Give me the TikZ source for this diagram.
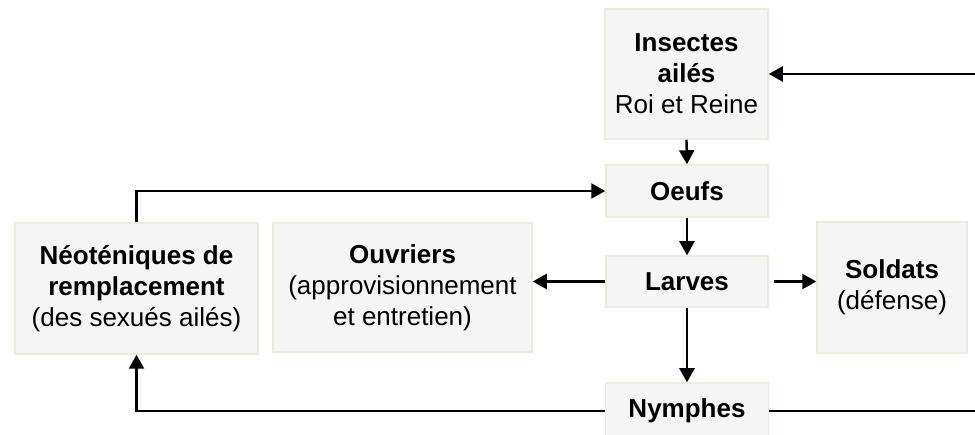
\documentclass[tikz,border=0pt]{standalone}
\usepackage{fontspec}
\setmainfont{Liberation Sans}
\usetikzlibrary{arrows.meta}
\definecolor{boxfill}{HTML}{F5F5F5}
\definecolor{boxline}{HTML}{ECE9DD}
\tikzset{
  stage/.style={draw=boxline, fill=boxfill, line width=1.5pt, align=center, inner sep=0pt,
    font=\fontsize{26}{31}\selectfont},
  flow/.style={line width=2.4pt, -{Triangle[length=14pt,width=15pt]}},
}
\begin{document}
\begin{tikzpicture}[x=1pt,y=-1pt]
\useasboundingbox (0,0) rectangle (975,435);
\clip (0,0) rectangle (975,435);
\node[stage, minimum width=163pt, minimum height=130pt] (ins) at (686.5,74) {\textbf{Insectes}\\\textbf{ailés}\\Roi et Reine};
\node[stage, minimum width=162pt, minimum height=52pt] (oeu) at (687,191) {\textbf{Oeufs}};
\node[stage, minimum width=162pt, minimum height=51pt] (lar) at (687,281.5) {\textbf{Larves}};
\node[stage, minimum width=150pt, minimum height=131pt] (sol) at (892,287.5) {\textbf{Soldats}\\(défense)};
\node[stage, minimum width=259pt, minimum height=129pt] (ouv) at (402.5,287.5) {\textbf{Ouvriers}\\(approvisionnement\\et entretien)};
\node[stage, minimum width=243pt, minimum height=131pt] (neo) at (136.5,288.5) {\textbf{Néoténiques de}\\\textbf{remplacement}\\(des sexués ailés)};
\node[stage, minimum width=163pt, minimum height=56pt] (nym) at (687,411) {\textbf{Nymphes}};
\coordinate (r) at (990,0);
\draw[flow] (ins.south) -- (oeu.north);
\draw[flow] (oeu.south) -- (lar.north);
\draw[flow] (lar.west) -- (lar.west -| ouv.east);
\draw[flow, shorten <=5pt] (lar.east) -- (lar.east -| sol.west);
\draw[flow] (lar.south) -- (nym.north);
\draw[flow] (nym.west) -| (neo.south);
\draw[flow] (neo.north) |- (oeu.west);
\draw[flow] (nym.east) -- (nym.east -| r) |- (ins.east);
\end{tikzpicture}
\end{document}
